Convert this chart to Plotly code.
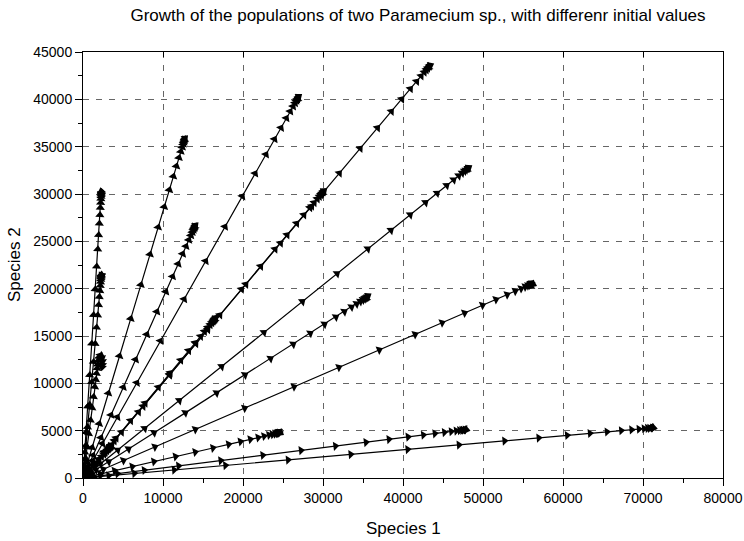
import plotly.graph_objects as go

title_text = "Growth of the populations of two Paramecium sp., with differenr initial values"
x_label = "Species 1"
y_label = "Species 2"
x_ticks = [0, 10000, 20000, 30000, 40000, 50000, 60000, 70000, 80000]
y_ticks = [0, 5000, 10000, 15000, 20000, 25000, 30000, 35000, 40000, 45000]

traj_a_x = [20, 50, 110, 220, 380, 590, 840, 1090, 1320, 1530, 1710, 1850, 1960, 2050, 2120, 2170, 2210, 2240, 2260, 2280, 2290, 2300, 2250, 2330, 2280]
traj_a_y = [240, 600, 1360, 2720, 4830, 7550, 10870, 14190, 17210, 19930, 22350, 24160, 25670, 26880, 27780, 28540, 29080, 29480, 29750, 29930, 30050, 30200, 30000, 30100, 30300]

traj_b_x = [20, 50, 110, 210, 370, 580, 830, 1080, 1310, 1520, 1700, 1840, 1960, 2050, 2120, 2170, 2210, 2240, 2260, 2280, 2290, 2300, 2340, 2260, 2310]
traj_b_y = [170, 430, 970, 1940, 3440, 5380, 7740, 10110, 12260, 14190, 15910, 17200, 18280, 19140, 19780, 20320, 20700, 20980, 21180, 21310, 21400, 21500, 21350, 21450, 21250]

traj_c_x = [15, 40, 90, 180, 320, 500, 720, 940, 1140, 1320, 1480, 1600, 1700, 1780, 1840, 1900, 2000, 2150, 2300, 2400, 2450, 2420, 2380]
traj_c_y = [100, 260, 590, 1170, 2080, 3250, 4680, 6110, 7410, 8580, 9620, 10400, 11050, 11570, 11960, 12400, 12750, 12950, 12900, 12650, 12300, 11950, 11700]

traj_d_x = [100, 250, 570, 1140, 2030, 3180, 4570, 5970, 7240, 8380, 9400, 10160, 10800, 11300, 11680, 12000, 12230, 12400, 12510, 12590, 12640, 12700, 12550, 12780, 12650]
traj_d_y = [290, 720, 1610, 3220, 5730, 8950, 12890, 16830, 20410, 23630, 26490, 28640, 30430, 31860, 32940, 33830, 34480, 34940, 35260, 35480, 35620, 35800, 35700, 35900, 35550]

traj_e_x = [110, 280, 630, 1260, 2240, 3500, 5040, 6580, 7980, 9240, 10360, 11200, 11900, 12460, 12880, 13230, 13480, 13660, 13790, 13870, 13930, 14000, 13850, 14080, 13950]
traj_e_y = [210, 530, 1200, 2390, 4260, 6650, 9580, 12500, 15160, 17560, 19680, 21280, 22610, 23670, 24470, 25140, 25620, 25960, 26200, 26360, 26470, 26600, 26500, 26700, 26400]

traj_f_x = [220, 540, 1210, 2420, 4300, 6730, 9680, 12640, 15330, 17750, 19910, 21520, 22870, 23940, 24750, 25420, 25900, 26250, 26500, 26660, 26770, 26900, 26700, 27000, 26800]
traj_f_y = [320, 800, 1810, 3620, 6430, 10050, 14470, 18890, 22910, 26530, 29750, 32160, 34170, 35780, 36980, 37990, 38710, 39240, 39600, 39840, 40000, 40200, 40100, 40300, 39900]

traj_g_x = [350, 870, 1950, 3900, 6930, 10830, 15590, 20350, 24680, 28580, 32040, 34640, 36810, 38540, 39840, 40920, 41700, 42260, 42650, 42910, 43080, 43300, 43100, 43450, 43200]
traj_g_y = [350, 870, 1960, 3920, 6960, 10880, 15660, 20450, 24800, 28710, 32190, 34800, 36980, 38720, 40020, 41110, 41890, 42460, 42850, 43110, 43280, 43500, 43450, 43600, 43300]

traj_h_x = [240, 600, 1350, 2700, 4800, 7500, 10800, 14100, 17100, 19800, 22200, 24000, 25500, 26700, 27600, 28350, 28890, 29280, 29550, 29730, 29850, 30000, 29800, 30150, 29950]
traj_h_y = [240, 600, 1360, 2720, 4830, 7550, 10870, 14190, 17210, 19930, 22350, 24160, 25670, 26880, 27780, 28540, 29080, 29480, 29750, 29930, 30050, 30200, 30100, 30350, 30000]

traj_i_x = [130, 330, 740, 1490, 2640, 4130, 5940, 7760, 9410, 10890, 12210, 13200, 14030, 14690, 15180, 15590, 15890, 16100, 16250, 16350, 16420, 16500, 16350, 16600, 16450]
traj_i_y = [134, 336, 760, 1510, 2690, 4200, 6050, 7900, 9580, 11090, 12430, 13440, 14280, 14950, 15460, 15880, 16180, 16400, 16550, 16650, 16720, 16800, 16700, 16950, 16600]

traj_p_x = [30, 70, 160, 320, 560, 880, 1260, 1650, 2000, 2310, 2590, 2800, 2980, 3120, 3220, 3310, 3370, 3420, 3450, 3470, 3490, 3500, 3350, 3600, 3450]
traj_p_y = [27, 68, 150, 310, 540, 850, 1220, 1600, 1940, 2240, 2520, 2720, 2890, 3030, 3130, 3210, 3270, 3320, 3350, 3370, 3390, 3400, 3300, 3500, 3350]

traj_j_x = [380, 960, 2160, 4330, 7700, 12030, 17320, 22610, 27420, 31750, 35590, 38480, 40890, 42810, 44250, 45450, 46320, 46950, 47380, 47670, 47860, 48100, 47900, 48250, 48000]
traj_j_y = [260, 650, 1470, 2940, 5230, 8180, 11770, 15370, 18640, 21580, 24200, 26160, 27800, 29100, 30080, 30900, 31490, 31920, 32210, 32410, 32540, 32700, 32600, 32800, 32500]

traj_k_x = [280, 710, 1600, 3200, 5680, 8880, 12780, 16690, 20240, 23430, 26270, 28400, 30180, 31600, 32660, 33550, 34190, 34650, 34970, 35180, 35320, 35500, 35300, 35650, 35400]
traj_k_y = [153, 380, 860, 1720, 3060, 4780, 6880, 8980, 10890, 12610, 14130, 15280, 16240, 17000, 17570, 18050, 18390, 18640, 18810, 18930, 19000, 19100, 19050, 19250, 18900]

traj_l_x = [450, 1120, 2520, 5050, 8980, 14030, 20200, 26370, 31980, 37030, 41510, 44880, 47690, 49930, 51610, 53010, 54020, 54750, 55260, 55600, 55820, 56100, 55900, 56300, 56000]
traj_l_y = [164, 410, 920, 1850, 3280, 5130, 7380, 9640, 11690, 13530, 15170, 16400, 17430, 18250, 18860, 19370, 19740, 20010, 20190, 20320, 20400, 20500, 20600, 20450, 20250]

traj_m_x = [200, 490, 1110, 2210, 3940, 6150, 8860, 11560, 14020, 16240, 18200, 19680, 20910, 21890, 22630, 23250, 23690, 24010, 24230, 24380, 24480, 24600, 24400, 24700, 24500]
traj_m_y = [38, 96, 216, 430, 770, 1200, 1730, 2260, 2740, 3170, 3550, 3840, 4080, 4270, 4420, 4540, 4620, 4680, 4730, 4760, 4780, 4800, 4900, 4750, 4850]

traj_n_x = [380, 960, 2150, 4300, 7650, 11950, 17210, 22470, 27250, 31550, 35370, 38240, 40630, 42540, 43980, 45170, 46030, 46650, 47080, 47370, 47560, 47800, 47600, 47950, 47700]
traj_n_y = [41, 102, 230, 460, 820, 1280, 1840, 2400, 2910, 3370, 3770, 4080, 4340, 4540, 4690, 4820, 4910, 4980, 5020, 5050, 5070, 5100, 5150, 5080, 5120]

traj_o_x = [570, 1420, 3200, 6410, 11390, 17800, 25630, 33460, 40580, 46990, 52690, 56960, 60520, 63370, 65500, 67280, 68570, 69490, 70130, 70560, 70840, 71200, 70900, 71350, 71050]
traj_o_y = [42, 106, 240, 480, 850, 1330, 1910, 2490, 3020, 3500, 3920, 4240, 4510, 4720, 4880, 5010, 5100, 5170, 5220, 5250, 5270, 5300, 5350, 5280, 5320]

trajectories = [
    (traj_a_x, traj_a_y), (traj_b_x, traj_b_y), (traj_c_x, traj_c_y),
    (traj_d_x, traj_d_y), (traj_e_x, traj_e_y), (traj_f_x, traj_f_y),
    (traj_g_x, traj_g_y), (traj_h_x, traj_h_y), (traj_i_x, traj_i_y),
    (traj_p_x, traj_p_y), (traj_j_x, traj_j_y), (traj_k_x, traj_k_y),
    (traj_l_x, traj_l_y), (traj_m_x, traj_m_y), (traj_n_x, traj_n_y),
    (traj_o_x, traj_o_y),
]

FONT = "Liberation Sans, Arial, Helvetica, sans-serif"

fig = go.Figure()
for xs, ys in trajectories:
    fig.add_trace(go.Scatter(
        x=xs, y=ys, mode="lines+markers",
        line=dict(color="black", width=1.2),
        marker=dict(symbol="triangle-up", size=8, color="black",
                    angleref="previous", line=dict(width=0)),
        showlegend=False, hoverinfo="skip",
    ))

# dummy trace for the top axis (inside ticks)
fig.add_trace(go.Scatter(x=[None], y=[None], xaxis="x2", showlegend=False, hoverinfo="skip"))

grid = dict(showgrid=True, gridcolor="#666666", gridwidth=1, griddash="6px,7px")

fig.update_layout(
    width=744, height=541,
    margin=dict(l=83, r=21, t=52, b=63, autoexpand=False),
    paper_bgcolor="white", plot_bgcolor="white",
    font=dict(family=FONT, color="black", size=14),
    title=dict(text=title_text, x=418 / 744, xref="container", xanchor="center",
               y=1 - 15 / 541, yref="container", yanchor="middle",
               font=dict(size=17, family=FONT, color="black")),
    xaxis=dict(range=[0, 80000], autorange=False, automargin=False,
               tickmode="array", tickvals=x_ticks, ticktext=[str(v) for v in x_ticks],
               ticks="outside", ticklen=7, tickcolor="black", tickwidth=1,
               showline=True, linecolor="black", linewidth=1, mirror=True,
               zeroline=False, tickfont=dict(size=14),
               minor=dict(tickmode="linear", tick0=0, dtick=5000, ticks="outside",
                          ticklen=4, tickcolor="black", showgrid=False),
               **grid),
    yaxis=dict(range=[0, 45000], autorange=False, automargin=False,
               tickmode="array", tickvals=y_ticks, ticktext=[str(v) for v in y_ticks],
               ticks="outside", ticklen=7, tickcolor="black", tickwidth=1,
               showline=True, linecolor="black", linewidth=1, mirror=True,
               zeroline=False, tickfont=dict(size=14),
               minor=dict(tickmode="linear", tick0=0, dtick=2500, ticks="outside",
                          ticklen=4, tickcolor="black", showgrid=False),
               **grid),
    xaxis2=dict(overlaying="x", side="top", range=[0, 80000], autorange=False,
                automargin=False,
                tickmode="array", tickvals=x_ticks, ticks="inside", ticklen=5,
                tickcolor="black", showticklabels=False, showgrid=False,
                showline=False, zeroline=False),
    annotations=[
        dict(text=x_label, xref="paper", yref="paper", x=0.5, y=0,
             xanchor="center", yanchor="middle", yshift=-50, showarrow=False,
             font=dict(size=17, family=FONT, color="black")),
        dict(text=y_label, xref="paper", yref="paper", x=0, y=0.5,
             xanchor="center", yanchor="middle", xshift=-69, textangle=-90,
             showarrow=False, font=dict(size=17, family=FONT, color="black")),
    ],
)

fig.write_html(
    "out.html",
    config={"displayModeBar": False, "staticPlot": True},
    post_script="document.body.style.margin='0';document.body.style.padding='0';"
                "document.body.style.overflow='hidden';",
)
